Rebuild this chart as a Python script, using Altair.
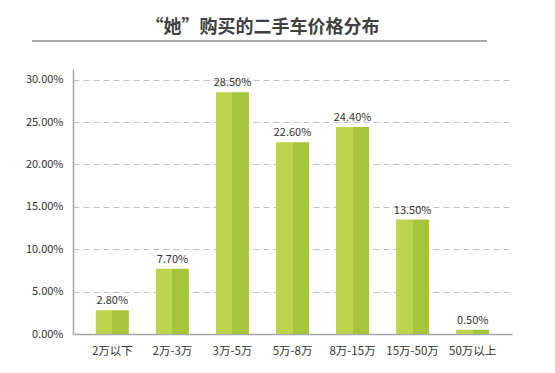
import altair as alt
import pandas as pd

categories = ["2万以下", "2万-3万", "3万-5万", "5万-8万", "8万-15万", "15万-50万", "50万以上"]
shares = [0.028, 0.077, 0.285, 0.226, 0.244, 0.135, 0.005]
tick_values = [0.0, 0.05, 0.10, 0.15, 0.20, 0.25, 0.30]
title_text = "“她”购买的二手车价格分布"

df = pd.DataFrame({"cat": categories, "share": shares})

FONT = "Noto Sans CJK SC"
light = "#bed44c"
dark = "#a7c43b"

x_enc = alt.X("cat:N", sort=categories, title=None,
              scale=alt.Scale(paddingInner=0.45, paddingOuter=0.38),
              axis=alt.Axis(labelAngle=0, labelFont=FONT, labelFontSize=11.5,
                            labelColor="#333333", labelPadding=11, ticks=False,
                            domainColor="#a6a6a6", domainWidth=1.5))
y_enc = alt.Y("share:Q", title=None,
              scale=alt.Scale(domain=[0, 0.3125], nice=False),
              axis=alt.Axis(values=tick_values, format=".2%", labelFont=FONT,
                            labelFontSize=11, labelColor="#333333", ticks=False,
                            labelPadding=10, domainColor="#a6a6a6", domainWidth=1.5,
                            grid=True, gridDash=[6, 4], gridColor="#c0c0c0",
                            gridWidth=1))

grad = alt.Gradient(gradient="linear", x1=0, y1=0, x2=1, y2=0,
                    stops=[alt.GradientStop(offset=0, color=light),
                           alt.GradientStop(offset=0.5, color=light),
                           alt.GradientStop(offset=0.5, color=dark),
                           alt.GradientStop(offset=1, color=dark)])

base = alt.Chart(df)
bars = base.mark_bar(color=grad).encode(x=x_enc, y=y_enc)
labels = base.mark_text(font=FONT, fontSize=11, color="#333333",
                        baseline="bottom", dy=-4).encode(
    x=alt.X("cat:N", sort=categories),
    y="share:Q",
    text=alt.Text("share:Q", format=".2%"))

title_rule = alt.Chart(pd.DataFrame({"a": [0]})).mark_rule(
    color="#555555", strokeWidth=1.2).encode(
    x=alt.value(-41), x2=alt.value(414), y=alt.value(-28))

chart = alt.layer(bars, labels, title_rule).properties(
    width=439, height=265,
    padding={"left": 73, "top": 69, "right": 43, "bottom": 39},
    autosize=alt.AutoSizeParams(type="none"),
    title=alt.TitleParams(title_text, font=FONT, fontSize=18, fontWeight="bold",
                          color="#404040", anchor="middle", dx=-30, offset=3),
).configure_view(stroke=None)

chart.save("out.html", embed_options={"renderer": "svg", "actions": False})
